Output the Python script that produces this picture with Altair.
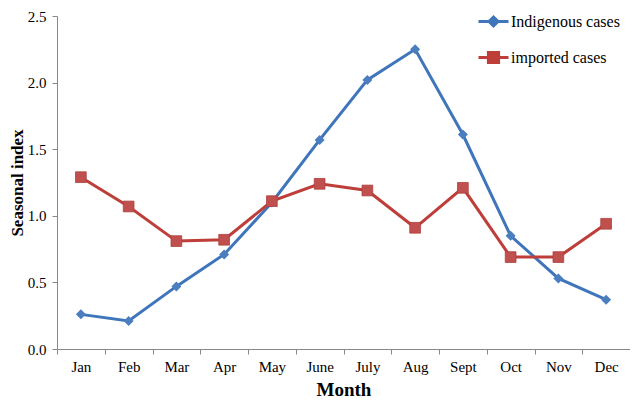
import altair as alt
import pandas as pd

months = ["Jan", "Feb", "Mar", "Apr", "May", "June", "July", "Aug", "Sept", "Oct", "Nov", "Dec"]
indigenous = [0.26, 0.21, 0.47, 0.71, 1.10, 1.57, 2.02, 2.25, 1.61, 0.85, 0.53, 0.37]
imported = [1.29, 1.07, 0.81, 0.82, 1.11, 1.24, 1.19, 0.91, 1.21, 0.69, 0.69, 0.94]
series_names = ["Indigenous cases", "imported cases"]
series_colors = ["#3F75BA", "#BE3E3A"]
marker_colors = ["#4A7EBF", "#C0504D"]

rows = []
for m, v in zip(months, indigenous):
    rows.append({"Month": m, "value": v, "series": series_names[0]})
for m, v in zip(months, imported):
    rows.append({"Month": m, "value": v, "series": series_names[1]})
df = pd.DataFrame(rows)

FONT = "Liberation Serif"
LEGEND_FONT = "Times New Roman"

x = alt.X("Month:N", sort=months, bandPosition=0.5,
          scale=alt.Scale(type="band", domain=months, paddingInner=0, paddingOuter=0),
          axis=alt.Axis(title="Month", tickBand="extent", labelAngle=0, labelFontSize=15,
                        labelPadding=5, titleFontSize=19, titleFontWeight="bold",
                        titlePadding=6, tickSize=5))
y = alt.Y("value:Q", scale=alt.Scale(domain=[0, 2.5]),
          axis=alt.Axis(title="Seasonal index", values=[0, 0.5, 1, 1.5, 2, 2.5], format=".1f",
                        labelFontSize=15, labelPadding=6, titleFontSize=17,
                        titleFontWeight="bold", titlePadding=1, tickSize=5, grid=False))

legend_paths = [
    "M-1,0L1,0M0,-0.3L0.3,0L0,0.3L-0.3,0Z",
    "M-1,0L1,0M-0.34,-0.34L0.34,-0.34L0.34,0.34L-0.34,0.34Z",
]

leg = alt.Legend(title=None, orient="none", legendX=420, legendY=-11,
                 symbolSize=900, labelFontSize=16, labelOffset=1,
                 rowPadding=9, symbolStrokeWidth=3, labelFont=LEGEND_FONT)

base = alt.Chart(df)

lines = base.mark_line(strokeWidth=3).encode(
    x=x, y=y,
    color=alt.Color("series:N", scale=alt.Scale(domain=series_names, range=series_colors), legend=leg),
    shape=alt.Shape("series:N", scale=alt.Scale(domain=series_names, range=legend_paths), legend=leg),
)

diamonds = base.transform_filter(alt.datum.series == series_names[0]).mark_point(
    shape="diamond", filled=True, size=100, opacity=1, color=marker_colors[0]).encode(x=x, y=y)

squares = base.transform_filter(alt.datum.series == series_names[1]).mark_square(
    size=115, opacity=1, color=marker_colors[1], stroke="#B0403D", strokeWidth=0.8).encode(x=x, y=y)

chart = alt.layer(lines, diamonds, squares).properties(
    width=573, height=333,
    autosize=alt.AutoSizeParams(type="none"),
    padding={"left": 49, "top": 8, "right": 0, "bottom": 51},
).configure(font=FONT).configure_view(stroke=None).configure_axis(
    domainColor="#888888", tickColor="#888888", labelColor="#000000", titleColor="#000000",
    labelFont=FONT, titleFont=FONT,
).configure_legend(labelFont=LEGEND_FONT, labelColor="#000000")

chart.save("out.html", embed_options={"renderer": "svg", "actions": False})
